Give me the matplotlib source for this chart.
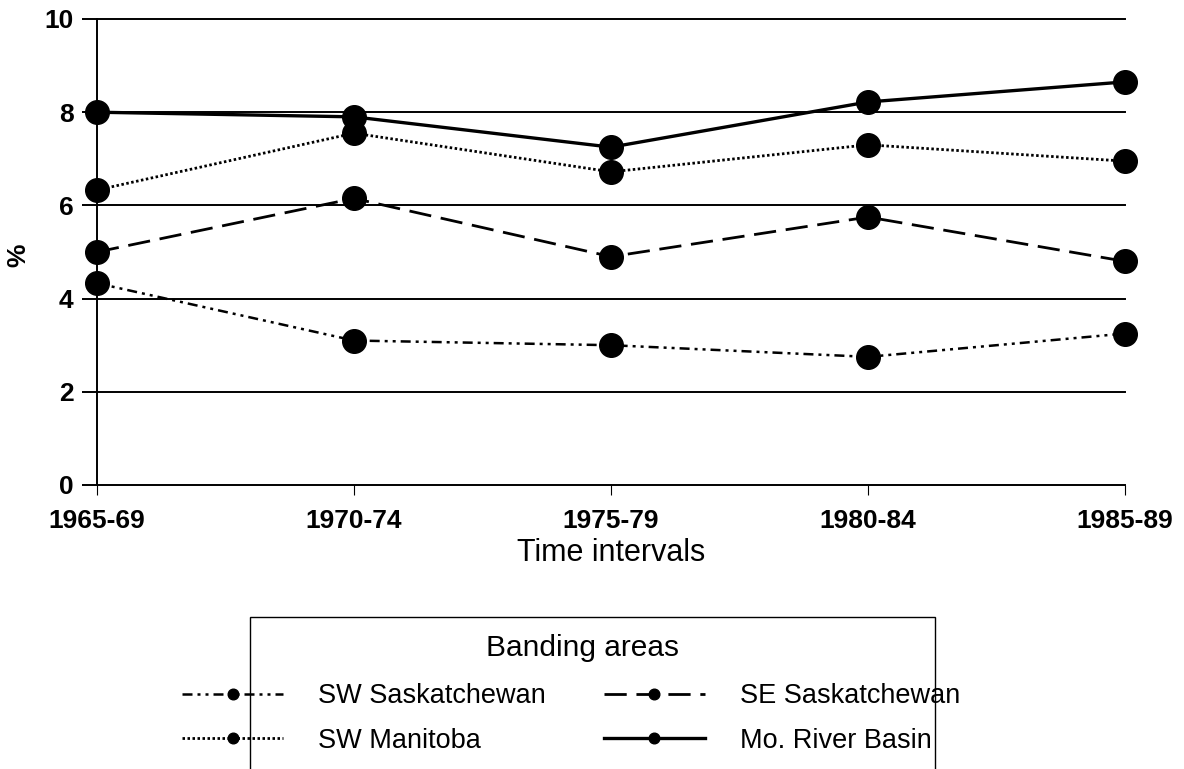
import numpy as np
import matplotlib.pyplot as plt
from matplotlib.patches import Rectangle

plt.rcParams["font.family"] = ["Liberation Sans", "DejaVu Sans"]

intervals = ["1965-69", "1970-74", "1975-79", "1980-84", "1985-89"]
sw_sask = [4.33, 3.1, 3.0, 2.75, 3.25]
se_sask = [5.0, 6.15, 4.9, 5.75, 4.8]
sw_manitoba = [6.33, 7.55, 6.72, 7.3, 6.95]
mo_river = [8.0, 7.9, 7.25, 8.22, 8.65]
y_ticks = [0, 2, 4, 6, 8, 10]

fig = plt.figure(figsize=(11.84, 7.69), dpi=100)
ax = fig.add_axes([97 / 1184, 1 - 485 / 769, (1125 - 97) / 1184, (485 - 19) / 769])

x = np.arange(len(intervals))
mk = dict(marker="o", markersize=17, color="black", markerfacecolor="black", clip_on=False)
ax.plot(x, sw_sask, linestyle=(0, (4, 2, 1.2, 2, 1.2, 2)), lw=1.8,
        label="SW Saskatchewan", **mk)
ax.plot(x, sw_manitoba, linestyle=(0, (0.9, 0.9)), lw=2.0, label="SW Manitoba", **mk)
ax.plot(x, se_sask, linestyle=(0, (8, 3.5)), lw=2.0, label="SE Saskatchewan", **mk)
ax.plot(x, mo_river, linestyle="-", lw=2.4, label="Mo. River Basin", **mk)

# horizontal grid lines
for yv in y_ticks:
    ax.axhline(yv, color="black", lw=1.4, zorder=0, clip_on=False)

ax.set_xlim(0, len(intervals) - 1)
ax.set_ylim(0, 10)
ax.set_yticks(y_ticks)
ax.set_xticks(x)
ax.set_xticklabels(intervals)
for side in ["top", "right", "bottom"]:
    ax.spines[side].set_visible(False)
ax.spines["left"].set_linewidth(1.4)
ax.tick_params(axis="y", length=11, width=1.4, labelsize=19, pad=6)
ax.tick_params(axis="x", length=7, width=0.8, labelsize=19, pad=10)
for lbl in ax.get_xticklabels() + ax.get_yticklabels():
    lbl.set_fontweight("bold")

ax.set_xlabel("Time intervals", fontsize=22, labelpad=4)
fig.text(18 / 1184, 1 - 255 / 769, "%", fontsize=19, fontweight="bold",
         rotation=90, ha="center", va="center")

# legend box, open at the bottom of the figure
fig.patches.append(Rectangle((250 / 1184, -0.05), (935 - 250) / 1184, 0.05 + (769 - 617) / 769,
                             transform=fig.transFigure, fill=False, ec="black", lw=1.0))
fig.text(582 / 1184, 1 - 648 / 769, "Banding areas", fontsize=21.5, ha="center", va="center")
handles, labels = ax.get_legend_handles_labels()
leg = fig.legend(handles, labels, ncol=2, loc="upper left",
                 bbox_to_anchor=(182 / 1184, 1 - 683 / 769), frameon=False,
                 borderpad=0, borderaxespad=0, fontsize=19.5,
                 markerscale=0.45, handlelength=3.73, handletextpad=1.3,
                 columnspacing=2.14, labelspacing=0.7)

fig.savefig("out.png", dpi=100)
